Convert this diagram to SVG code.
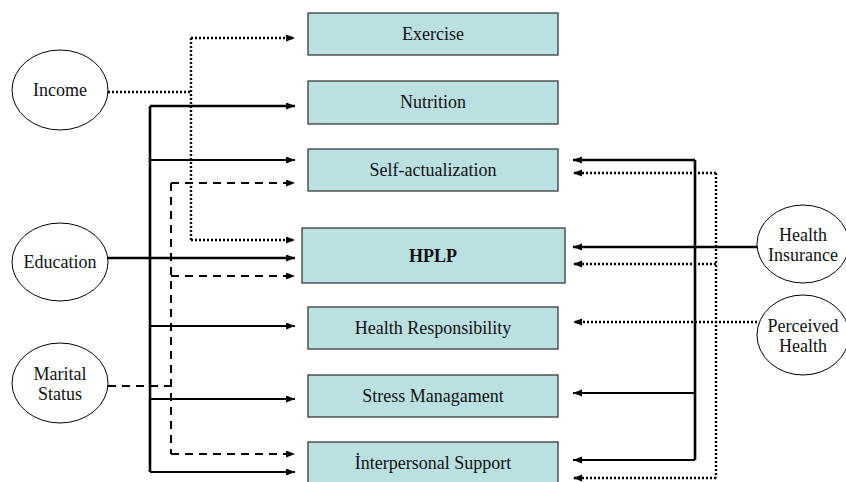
<svg xmlns="http://www.w3.org/2000/svg" width="846" height="482" viewBox="0 0 846 482">
<style>
.box{fill:#bae0e2;stroke:#3a3a3a;stroke-width:1.3}
.ell{fill:#fff;stroke:#000;stroke-width:1}
.t{font-family:'Liberation Serif','DejaVu Serif',serif;font-size:18px;fill:#111;text-anchor:middle}
.b{font-weight:bold}
.c{fill:none;stroke:#000}
.s{stroke-width:2.2}
.sb{stroke-width:2.6}
.d{stroke-width:2.4;stroke-dasharray:2 2}
.ds{stroke-width:2;stroke-dasharray:8 6}
</style>
<defs>
<marker id="ah" markerUnits="userSpaceOnUse" markerWidth="10" markerHeight="8" refX="9" refY="3.5" orient="auto">
<path d="M0,0 L9,3.5 L0,7 z" fill="#000"/>
</marker>
</defs>
<g id="connectors">
<path class="c d" d="M108,92 H191"/>
<path class="c d" d="M191,38 V240"/>
<path class="c d" d="M191,38 H295" marker-end="url(#ah)"/>
<path class="c d" d="M191,240 H295" marker-end="url(#ah)"/>
<path class="c sb" d="M150,106 V472"/>
<path class="c sb" d="M150,106 H295" marker-end="url(#ah)"/>
<path class="c s" d="M150,160 H295" marker-end="url(#ah)"/>
<path class="c sb" d="M108,258 H295" marker-end="url(#ah)"/>
<path class="c s" d="M150,326 H295" marker-end="url(#ah)"/>
<path class="c s" d="M150,399 H295" marker-end="url(#ah)"/>
<path class="c s" d="M150,472 H295" marker-end="url(#ah)"/>
<path class="c ds" d="M108,386 H171"/>
<path class="c ds" d="M171,183 V454"/>
<path class="c ds" d="M171,183 H295" marker-end="url(#ah)"/>
<path class="c ds" d="M171,276 H295" marker-end="url(#ah)"/>
<path class="c ds" d="M171,454 H295" marker-end="url(#ah)"/>
<path class="c sb" d="M695,160 V460"/>
<path class="c sb" d="M695,160 H573" marker-end="url(#ah)"/>
<path class="c sb" d="M757,247 H573" marker-end="url(#ah)"/>
<path class="c s" d="M695,393 H573" marker-end="url(#ah)"/>
<path class="c s" d="M695,460 H573" marker-end="url(#ah)"/>
<path class="c d" d="M716,173 V478"/>
<path class="c d" d="M716,173 H573" marker-end="url(#ah)"/>
<path class="c d" d="M716,264 H573" marker-end="url(#ah)"/>
<path class="c d" d="M716,478 H573" marker-end="url(#ah)"/>
<path class="c d" d="M757,322 H573" marker-end="url(#ah)"/>
</g>
<g id="exercise"><rect class="box" x="308" y="13" width="250" height="42"/><text class="t" x="433" y="40">Exercise</text></g>
<g id="nutrition"><rect class="box" x="308" y="81" width="250" height="43"/><text class="t" x="433" y="108">Nutrition</text></g>
<g id="self-actualization"><rect class="box" x="308" y="149" width="250" height="42"/><text class="t" x="433" y="176">Self-actualization</text></g>
<g id="hplp"><rect class="box" x="302" y="228" width="263" height="55"/><text class="t b" x="433" y="262">HPLP</text></g>
<g id="health-responsibility"><rect class="box" x="308" y="307" width="250" height="42"/><text class="t" x="433" y="334">Health Responsibility</text></g>
<g id="stress-management"><rect class="box" x="308" y="375" width="250" height="42"/><text class="t" x="433" y="402">Stress Managament</text></g>
<g id="interpersonal-support"><rect class="box" x="308" y="442" width="250" height="42"/><text class="t" x="433" y="469">İnterpersonal Support</text></g>
<g id="income"><ellipse class="ell" cx="60" cy="90" rx="48" ry="40"/><text class="t" x="60" y="96">Income</text></g>
<g id="education"><ellipse class="ell" cx="60" cy="262" rx="48" ry="39"/><text class="t" x="60" y="268">Education</text></g>
<g id="marital-status"><ellipse class="ell" cx="60" cy="383" rx="48" ry="40"/><text class="t" x="60" y="380">Marital</text><text class="t" x="60" y="400">Status</text></g>
<g id="health-insurance"><ellipse class="ell" cx="803" cy="244" rx="46" ry="39"/><text class="t" x="803" y="241">Health</text><text class="t" x="803" y="261">Insurance</text></g>
<g id="perceived-health"><ellipse class="ell" cx="803" cy="335" rx="46" ry="40"/><text class="t" x="803" y="332">Perceived</text><text class="t" x="803" y="352">Health</text></g>
</svg>
